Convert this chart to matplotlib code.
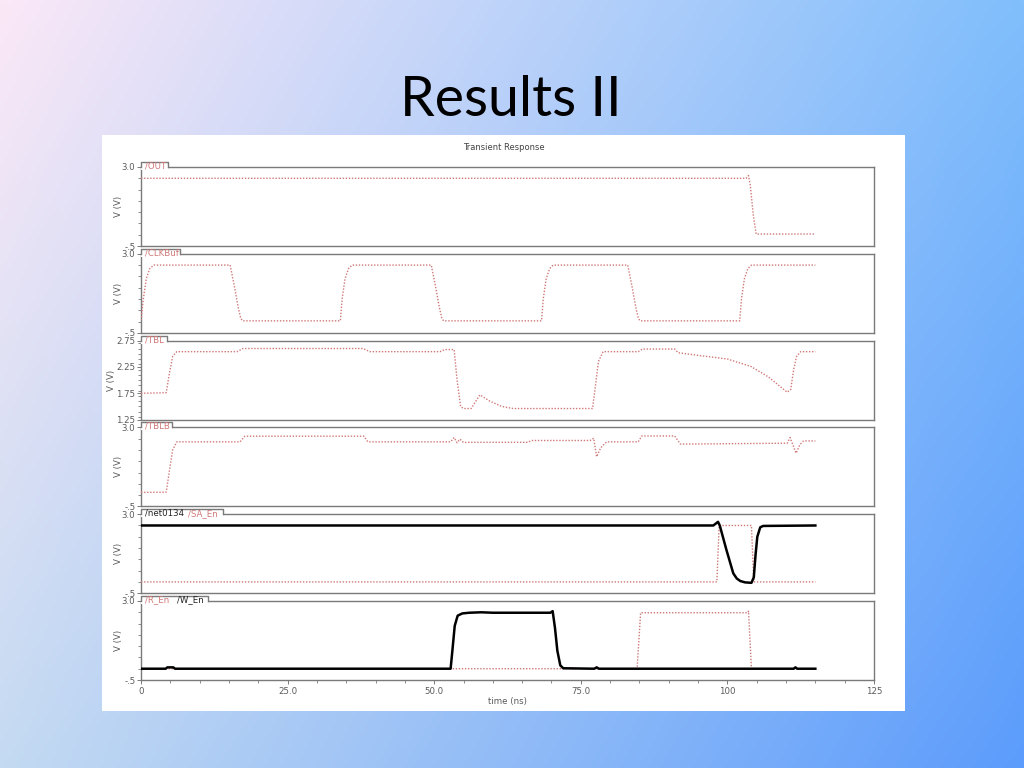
import numpy as np
import matplotlib
matplotlib.use("Agg")
import matplotlib.pyplot as plt
from matplotlib.patches import Rectangle
from matplotlib.lines import Line2D
from matplotlib.ticker import MultipleLocator, FixedLocator

# ---- waveform data (time in ns, volts) ----
out_t = [0, 103.2, 103.6, 103.9, 104.4, 104.9, 115]
out_v = [2.5, 2.5, 2.62, 2.2, 0.9, 0.03, 0.03]

clk_t = [0, 0.4, 0.9, 1.5, 2.2, 15.2, 15.9, 16.6, 17.0, 17.3,
         34.0, 34.3, 34.8, 35.4, 36.0, 49.5, 50.2, 50.9, 51.3, 51.6,
         68.3, 68.6, 69.1, 69.7, 70.3, 83.0, 83.7, 84.4, 84.8, 85.1,
         102.1, 102.4, 102.9, 103.5, 104.1, 115]
clk_v = [0.05, 1.0, 1.9, 2.35, 2.5, 2.5, 1.6, 0.6, 0.15, 0.03,
         0.03, 1.0, 1.9, 2.35, 2.5, 2.5, 1.6, 0.6, 0.15, 0.03,
         0.03, 1.0, 1.9, 2.35, 2.5, 2.5, 1.6, 0.6, 0.15, 0.03,
         0.03, 1.0, 1.9, 2.35, 2.5, 2.5]

tbl_t = [0, 4.3, 4.8, 5.4, 6.1, 16.4, 17.4, 37.9, 39.0, 51.0, 51.8, 53.4,
         53.9, 54.5, 55.0, 56.3, 57.8, 59.5, 61.5, 63.5, 77.0, 77.4, 78.0,
         78.8, 84.8, 85.5, 91.0, 91.6, 95.0, 100.0, 104.0, 107.0, 110.2,
         110.8, 111.3, 111.8, 112.5, 115]
tbl_v = [1.75, 1.76, 2.1, 2.45, 2.54, 2.54, 2.6, 2.6, 2.54, 2.54, 2.58, 2.58,
         2.0, 1.5, 1.46, 1.46, 1.72, 1.6, 1.5, 1.46, 1.46, 1.8, 2.35,
         2.54, 2.54, 2.59, 2.59, 2.52, 2.47, 2.40, 2.26, 2.06, 1.77,
         1.82, 2.2, 2.45, 2.54, 2.54]

tblb_t = [0, 4.3, 4.8, 5.4, 6.1, 16.9, 17.7, 38.0, 38.7, 52.8, 53.4, 53.9,
          54.4, 55.0, 56.0, 66.0, 66.6, 76.6, 77.2, 77.7, 78.4, 79.4, 84.8,
          85.4, 91.0, 92.0, 110.2, 110.7, 111.7, 112.4, 113.0, 115]
tblb_v = [0.12, 0.13, 1.0, 2.0, 2.36, 2.36, 2.61, 2.61, 2.36, 2.36, 2.55, 2.32,
          2.48, 2.33, 2.34, 2.34, 2.42, 2.42, 2.52, 1.7, 2.1, 2.36, 2.36,
          2.62, 2.62, 2.26, 2.30, 2.55, 1.86, 2.25, 2.4, 2.4]

net_t = [0, 97.6, 98.4, 98.7, 99.8, 101.0, 101.6, 102.2, 103.0, 104.1,
         104.5, 104.8, 105.1, 105.6, 106.1, 115]
net_v = [2.5, 2.5, 2.66, 2.5, 1.45, 0.38, 0.15, 0.04, -0.02, -0.04,
         0.2, 1.2, 2.0, 2.42, 2.48, 2.5]

saen_t = [0, 98.2, 98.6, 104.1, 104.5, 115]
saen_v = [0, 0, 2.5, 2.5, 0, 0]

ren_t = [0, 84.6, 85.2, 103.5, 103.6, 104.1, 115]
ren_v = [0, 0, 2.48, 2.48, 2.55, 0, 0]

wen_t = [0, 4.2, 4.5, 5.5, 5.8, 52.8, 53.1, 53.5, 54.0, 54.8, 56.0, 58.0,
         60.0, 69.8, 70.2, 70.6, 71.0, 71.5, 72.0, 77.3, 77.7, 78.1,
         111.3, 111.6, 111.9, 115]
wen_v = [0, 0, 0.06, 0.06, 0, 0, 0.8, 1.9, 2.35, 2.45, 2.48, 2.5,
         2.48, 2.48, 2.55, 1.8, 0.8, 0.15, 0.02, 0, 0.06, 0,
         0, 0.06, 0, 0]

x_ticks = [0, 25, 50, 75, 100, 125]
x_ticklabels = ["0", "25.0", "50.0", "75.0", "100", "125"]

RED = "#d07878"
GRAY = "#7a7a7a"
TXT = "#5a5a5a"

W, H = 1024, 768
fig = plt.figure(figsize=(W / 100, H / 100), dpi=100)

# slide background gradient
bg = fig.add_axes([0, 0, 1, 1])
bg.set_axis_off()
tl = np.array([251, 232, 247]) / 255
tr = np.array([128, 190, 252]) / 255
bl = np.array([196, 218, 242]) / 255
br = np.array([92, 156, 252]) / 255
u = np.linspace(0, 1, 256)[None, :, None]
v = np.linspace(0, 1, 192)[:, None, None]
img = (1 - v) * ((1 - u) * tl + u * tr) + v * ((1 - u) * bl + u * br)
bg.imshow(img, aspect="auto", extent=[0, 1, 0, 1])
bg.set_xlim(0, 1)
bg.set_ylim(0, 1)

fig.text(511 / W, 1 - 116 / H, "Results II", ha="center", va="baseline",
         fontsize=40, family="Lato", color="black")

# white chart panel
fig.patches.append(Rectangle((102 / W, 1 - 711 / H), 803 / W, 576 / H,
                             transform=fig.transFigure, facecolor="white",
                             edgecolor="none", zorder=1))

fig.text(504 / W, 1 - 147 / H, "Transient Response", ha="center", va="center",
         fontsize=6, color="#444444", zorder=5)

ax_left, ax_right = 141, 874
tops = [167, 253.8, 340.6, 427.4, 514.2, 601]
ph = 79

panels = [
    dict(series=[(out_t, out_v, "red")], labels=[("/OUT", RED, 4)], tabw=27),
    dict(series=[(clk_t, clk_v, "red")], labels=[("/CLKBuf", RED, 4)], tabw=39),
    dict(series=[(tbl_t, tbl_v, "red")], labels=[("/TBL", RED, 4)], tabw=26, tbl=True),
    dict(series=[(tblb_t, tblb_v, "red")], labels=[("/TBLB", RED, 4)], tabw=31),
    dict(series=[(saen_t, saen_v, "red"), (net_t, net_v, "black")],
         labels=[("/net0134", "#222222", 4), ("/SA_En", RED, 47)], tabw=82),
    dict(series=[(ren_t, ren_v, "red"), (wen_t, wen_v, "black")],
         labels=[("/R_En", RED, 4), ("/W_En", "#222222", 36)], tabw=67),
]

aw = ax_right - ax_left
for i, (p, top) in enumerate(zip(panels, tops)):
    ax = fig.add_axes([ax_left / W, 1 - (top + ph) / H, aw / W, ph / H])
    ax.set_zorder(3)
    for t, vals, kind in p["series"]:
        if kind == "red":
            ax.plot(t, vals, color=RED, lw=1.0, ls=(0, (1, 1.2)), zorder=3)
        else:
            ax.plot(t, vals, color="black", lw=1.8, zorder=4)
    ax.set_xlim(0, 125)
    if p.get("tbl"):
        ax.set_ylim(1.25, 2.75)
        ax.yaxis.set_major_locator(FixedLocator([1.25, 1.75, 2.25, 2.75]))
        ax.set_yticklabels(["1.25", "1.75", "2.25", "2.75"])
        ax.yaxis.set_minor_locator(MultipleLocator(0.1))
    else:
        ax.set_ylim(-0.5, 3.0)
        ax.yaxis.set_major_locator(FixedLocator([-0.5, 3.0]))
        ax.set_yticklabels(["-.5", "3.0"])
        ax.yaxis.set_minor_locator(MultipleLocator(0.5))
    for s in ax.spines.values():
        s.set_color(GRAY)
        s.set_linewidth(1.0)
    ax.tick_params(axis="y", which="major", length=3, width=0.7, color=GRAY,
                   labelsize=6.2, labelcolor=TXT, pad=1)
    ax.tick_params(axis="y", which="minor", length=2, width=0.6, color=GRAY)
    ax.set_ylabel("V (V)", fontsize=6.2, color=TXT)
    ax.yaxis.set_label_coords((-25 if p.get("tbl") else -18) / aw, 0.5)
    if i == len(panels) - 1:
        ax.set_xticks(x_ticks)
        ax.set_xticklabels(x_ticklabels)
        ax.xaxis.set_minor_locator(MultipleLocator(5))
        ax.tick_params(axis="x", which="major", length=3, width=0.7, color=GRAY,
                       labelsize=6.2, labelcolor=TXT, pad=2)
        ax.tick_params(axis="x", which="minor", length=2, width=0.6, color=GRAY)
        ax.set_xlabel("time (ns)", fontsize=6.2, color=TXT, labelpad=1)
    else:
        ax.set_xticks([])
        ax.xaxis.set_minor_locator(FixedLocator([]))

    # label tab above the frame
    tw = p["tabw"] / aw
    th = 5 / ph
    ax.add_patch(Rectangle((0, 1 - 3 / ph), tw, th + 3 / ph, transform=ax.transAxes,
                           facecolor="white", edgecolor="none", clip_on=False, zorder=6))
    ax.add_line(Line2D([0, 0, tw, tw], [1, 1 + th, 1 + th, 1], transform=ax.transAxes,
                       color=GRAY, lw=1.0, clip_on=False, zorder=7))
    for txt, col, dx in p["labels"]:
        ax.text(dx / aw, 1 + 1 / ph, txt, transform=ax.transAxes, fontsize=6.2,
                color=col, ha="left", va="center", zorder=8, clip_on=False)

fig.savefig("out.png", dpi=100)
